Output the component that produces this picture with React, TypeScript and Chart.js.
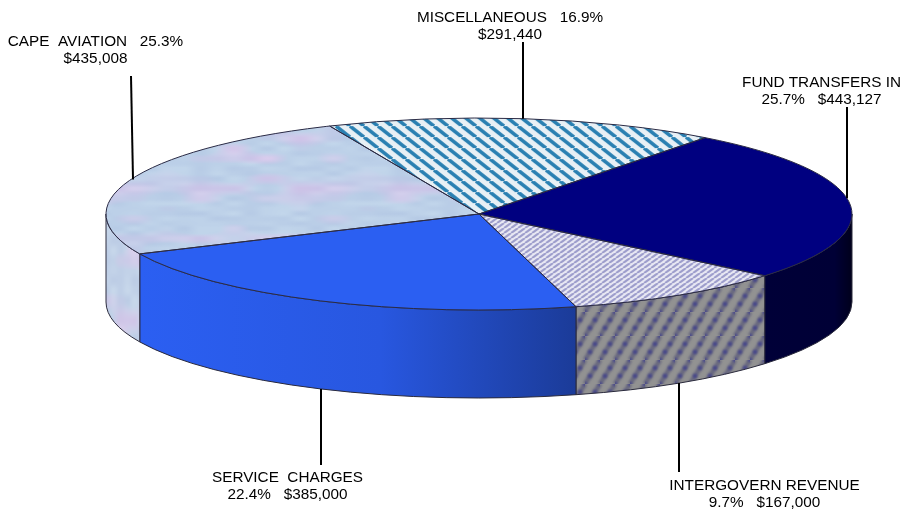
import React, { useEffect, useRef } from "react";
import { Chart, registerables } from "chart.js";

Chart.register(...registerables);

// Revenue sources, listed clockwise starting from the Miscellaneous slice.
const categories = ["MISCELLANEOUS", "FUND TRANSFERS IN", "INTERGOVERN REVENUE", "SERVICE  CHARGES", "CAPE  AVIATION"];
const amounts = [291440, 443127, 167000, 385000, 435008];
const percents = ["16.9", "25.7", "9.7", "22.4", "25.3"];
const nameWithPercent = [true, false, false, false, true];

// Geometry of the tilted disc.
const DISC = { cx: 479, cy: 214, rx: 373, ry: 96, depth: 88, rotation: -23.6 };
const FLAT = DISC.ry / DISC.rx;

// Where each caption sits, and the x at which its leader meets the rim.
const captions = [
  { x: 510, y: 16, leaderX: 523, leaderEnd: 42, front: false },
  { x: 821.5, y: 81.5, leaderX: 847, leaderEnd: 107, front: false },
  { x: 764.5, y: 484, leaderX: 679, leaderEnd: 472, front: true },
  { x: 287.5, y: 476, leaderX: 321, leaderEnd: 465, front: true },
  { x: 95.5, y: 40, leaderX: 131, leaderEnd: 76, front: false },
];

function tile(w: number, h: number, paint: (c: CanvasRenderingContext2D) => void) {
  const canvas = document.createElement("canvas");
  canvas.width = w;
  canvas.height = h;
  paint(canvas.getContext("2d")!);
  return canvas;
}

// Diagonal stripes on a tile that repeats seamlessly.
function stripes(w: number, h: number, up: boolean, bg: string, fg: string, lw: number) {
  return tile(w, h, (c) => {
    c.fillStyle = bg;
    c.fillRect(0, 0, w, h);
    c.strokeStyle = fg;
    c.lineWidth = lw;
    for (let i = -1; i <= 1; i++) {
      c.beginPath();
      c.moveTo(i * w, up ? h : 0);
      c.lineTo(i * w + w, up ? 0 : h);
      c.stroke();
    }
  });
}

// Repeating smooth lattice noise, seeded by a fixed integer hash.
function latticeNoise(seed: number, nx: number, ny: number) {
  const hash = (ix: number, iy: number) => {
    let h = ((ix % nx) + nx) % nx;
    h = h * 374761393 + (((iy % ny) + ny) % ny) * 668265263 + seed * 2147483;
    h = Math.imul(h ^ (h >>> 13), 1274126177);
    return (((h ^ (h >>> 16)) >>> 0) % 1000) / 1000;
  };
  const ease = (t: number) => t * t * (3 - 2 * t);
  return (u: number, v: number) => {
    const x = u * nx;
    const y = v * ny;
    const ix = Math.floor(x);
    const iy = Math.floor(y);
    const fx = ease(x - ix);
    const fy = ease(y - iy);
    const top = hash(ix, iy) * (1 - fx) + hash(ix + 1, iy) * fx;
    const bot = hash(ix, iy + 1) * (1 - fx) + hash(ix + 1, iy + 1) * fx;
    return top * (1 - fy) + bot * fy;
  };
}

// Pale blue mottling with faint pink patches.
function mottle(w: number, h: number, base: number[], cellX: number, cellY: number) {
  const pink = latticeNoise(3, Math.round(w / cellX), Math.round(h / cellY));
  const light = latticeNoise(11, Math.round(w / (cellX / 2)), Math.round(h / (cellY / 2)));
  return tile(w, h, (c) => {
    const img = c.createImageData(w, h);
    for (let y = 0; y < h; y++) {
      for (let x = 0; x < w; x++) {
        const p = Math.max(pink(x / w, y / h) - 0.45, 0) * 1.8;
        const l = (light(x / w, y / h) - 0.5) * 12;
        const i = (y * w + x) * 4;
        img.data[i] = base[0] + l + p * 24;
        img.data[i + 1] = base[1] + l - p * 10;
        img.data[i + 2] = base[2] + l * 0.5 + p * 2;
        img.data[i + 3] = 255;
      }
    }
    c.putImageData(img, 0, 0);
  });
}

// Dark diagonal bands broken into soft beads over mid grey.
function beadedBands() {
  const w = 15;
  const h = 24;
  return tile(w, h, (c) => {
    c.fillStyle = "#929292";
    c.fillRect(0, 0, w, h);
    c.filter = "blur(1px)";
    c.strokeStyle = "#6a6a80";
    c.lineWidth = 5;
    for (let i = -1; i <= 1; i++) {
      c.beginPath();
      c.moveTo(i * w, h);
      c.lineTo(i * w + w, 0);
      c.stroke();
    }
    c.fillStyle = "#45458a";
    for (let i = -1; i <= 3; i++) {
      c.beginPath();
      c.arc((i * w) / 3, h - (i * h) / 3, 2.3, 0, Math.PI * 2);
      c.fill();
    }
  });
}

type Arc = { x: number; y: number; startAngle: number; endAngle: number; outerRadius: number };

function tiltContext(ctx: CanvasRenderingContext2D, chartCy: number) {
  ctx.translate(0, DISC.cy);
  ctx.scale(1, FLAT);
  ctx.translate(0, -chartCy);
}

function wallPath(ctx: CanvasRenderingContext2D, a: number, b: number) {
  const { cx, cy, rx, ry, depth } = DISC;
  ctx.beginPath();
  ctx.ellipse(cx, cy, rx, ry, 0, a, b);
  ctx.lineTo(cx + rx * Math.cos(b), cy + ry * Math.sin(b) + depth);
  ctx.ellipse(cx, cy + depth, rx, ry, 0, b, a, true);
  ctx.closePath();
}

// The parts of an arc's angle range that face the viewer (between 0 and PI).
function frontSpans(start: number, end: number) {
  const spans: [number, number][] = [];
  for (const k of [-1, 0, 1]) {
    const a = Math.max(start + k * 2 * Math.PI, 0);
    const b = Math.min(end + k * 2 * Math.PI, Math.PI);
    if (b > a) spans.push([a, b]);
  }
  return spans;
}

function captionLines(i: number) {
  const money = "$" + amounts[i].toLocaleString("en-US");
  return nameWithPercent[i]
    ? [`${categories[i]}   ${percents[i]}%`, money]
    : [categories[i], `${percents[i]}%   ${money}`];
}

export default function App() {
  const ref = useRef<HTMLCanvasElement>(null);

  useEffect(() => {
    const canvas = ref.current!;
    const ctx0 = canvas.getContext("2d")!;
    const unflatten = new DOMMatrix().scale(1, 1 / FLAT);
    const flatPattern = (source: HTMLCanvasElement) => {
      const p = ctx0.createPattern(source, "repeat")!;
      p.setTransform(unflatten);
      return p;
    };

    const topFills = [
      flatPattern(stripes(14, 11, false, "#e8f0f5", "#2a80b2", 3.6)),
      "#000080",
      flatPattern(stripes(7, 5, true, "#eaeaf4", "#9c9ccb", 2.2)),
      "#2b5ff2",
      flatPattern(mottle(200, 120, [188, 208, 232], 34, 10)),
    ];

    const serviceWall = ctx0.createLinearGradient(140, 0, 577, 0);
    serviceWall.addColorStop(0, "#2b5ff2");
    serviceWall.addColorStop(0.55, "#2857e0");
    serviceWall.addColorStop(1, "#1b3b98");
    const fundWall = ctx0.createLinearGradient(765, 0, 852, 0);
    fundWall.addColorStop(0, "#000038");
    fundWall.addColorStop(0.8, "#000036");
    fundWall.addColorStop(1, "#00001c");
    const wallFills: (string | CanvasGradient | CanvasPattern)[] = [
      "#000038",
      fundWall,
      ctx0.createPattern(beadedBands(), "repeat")!,
      serviceWall,
      ctx0.createPattern(mottle(120, 120, [194, 210, 232], 14, 20), "repeat")!,
    ];

    const discPlugin = {
      id: "tiltedDisc",
      beforeDatasetsDraw(chart: Chart) {
        const ctx = chart.ctx;
        const arcs = chart.getDatasetMeta(0).data as unknown as Arc[];
        arcs.forEach((el, i) => {
          frontSpans(el.startAngle, el.endAngle).forEach(([a, b]) => {
            wallPath(ctx, a, b);
            ctx.fillStyle = wallFills[i];
            ctx.fill();
            ctx.strokeStyle = "#2a2a3c";
            ctx.lineWidth = 1;
            ctx.stroke();
          });
        });
        ctx.save();
        tiltContext(ctx, arcs[0].y);
      },
      afterDatasetsDraw(chart: Chart) {
        const ctx = chart.ctx;
        ctx.restore();
        const arcs = chart.getDatasetMeta(0).data as unknown as Arc[];
        // Outlines are stroked untransformed so the line weight stays even.
        arcs.forEach((el) => {
          ctx.save();
          tiltContext(ctx, el.y);
          ctx.beginPath();
          ctx.moveTo(el.x, el.y);
          ctx.arc(el.x, el.y, el.outerRadius, el.startAngle, el.endAngle);
          ctx.closePath();
          ctx.restore();
          ctx.strokeStyle = "#2a2a44";
          ctx.lineWidth = 1;
          ctx.stroke();
        });
      },
      afterDraw(chart: Chart) {
        const ctx = chart.ctx;
        const { cx, cy, rx, ry, depth } = DISC;
        ctx.save();
        captions.forEach((cap, i) => {
          const t = (cap.leaderX - cx) / rx;
          const rim = ry * Math.sqrt(1 - t * t);
          const rimY = cap.front ? cy + rim + depth : cy - rim;
          ctx.beginPath();
          ctx.moveTo(cap.leaderX, cap.leaderEnd);
          ctx.lineTo(cap.leaderX + (i === 4 ? 2 : 0), rimY);
          ctx.strokeStyle = "#000";
          ctx.lineWidth = 2;
          ctx.stroke();
          ctx.fillStyle = "#000";
          ctx.font = '15.3px "Liberation Sans"';
          ctx.textAlign = "center";
          ctx.textBaseline = "alphabetic";
          captionLines(i).forEach((line, j) => ctx.fillText(line, cap.x, cap.y + 5.5 + j * 17));
        });
        ctx.restore();
      },
    };

    const chart = new Chart(canvas, {
      type: "pie",
      data: {
        labels: categories,
        datasets: [{ data: amounts, backgroundColor: topFills as any, borderWidth: 0, clip: false as any }],
      },
      options: {
        animation: false,
        responsive: false,
        rotation: DISC.rotation,
        radius: DISC.rx,
        layout: { padding: { left: 2 * DISC.cx - 907 } },
        events: [],
        plugins: { legend: { display: false }, tooltip: { enabled: false } },
      } as any,
      plugins: [discPlugin as any],
    });
    return () => chart.destroy();
  }, []);

  return (
    <div style={{ position: "fixed", left: 0, top: 0, width: 907, height: 512, background: "#fff" }}>
      <canvas ref={ref} width={907} height={512} style={{ display: "block" }} />
    </div>
  );
}
